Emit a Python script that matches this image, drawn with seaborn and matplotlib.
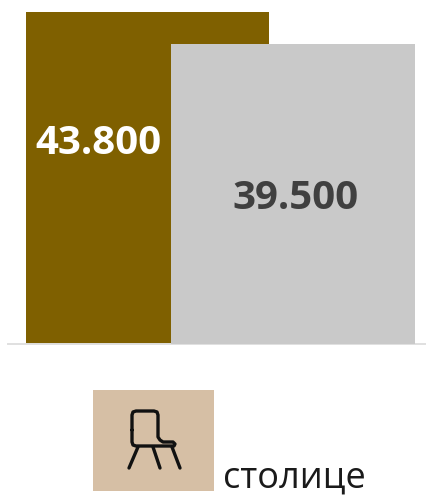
import matplotlib
matplotlib.use("Agg")
import matplotlib.pyplot as plt
from matplotlib.patches import Rectangle
import seaborn as sns
import pandas as pd

categories = ["2011", "2021"]
values = [43800, 39500]
value_labels = ["43.800", "39.500"]
bar_colors = ["#7F6000", "#C9C9C9"]
label_colors = ["white", "#404040"]
caption = "столице"

sns.set_theme(style="white")
plt.rcParams['font.family'] = ['Open Sans', 'DejaVu Sans']

W, H = 427, 495
fig = plt.figure(figsize=(W / 100, H / 100), dpi=100)

ax = fig.add_axes([8 / W, 1 - 343.5 / H, 419 / W, 332 / H])
df = pd.DataFrame({"cat": categories, "val": values})
for i, row in df.iterrows():
    sns.barplot(x=[i], y=[row["val"]], color=bar_colors[i], width=1.0,
                saturation=1, ax=ax, native_scale=True, zorder=2 + i)

# 243 px bar width, 145.7 px between the bar centres
ax.set_xlim(-(147.3 - 8) / 145.7, (427 - 147.3) / 145.7)
ax.set_ylim(0, 43800)
for p in ax.patches:
    c = p.get_x() + p.get_width() / 2
    p.set_x(c - 243.3 / 145.7 / 2)
    p.set_width(243.3 / 145.7)
    p.set_edgecolor('none')

# labels sit off centre in the reference, so place them relative to each bar
label_offsets = [(-49, 34), (3, -5)]
for i, row in df.iterrows():
    ax.annotate(value_labels[i], xy=(i, row["val"] / 2), xytext=label_offsets[i],
                textcoords='offset pixels', ha='center', va='center',
                color=label_colors[i], fontsize=29, fontweight='bold', zorder=5)

ax.set_xticks([])
ax.set_yticks([])
ax.set_xlabel("")
ax.set_ylabel("")
for s in ['top', 'left', 'right']:
    ax.spines[s].set_visible(False)
ax.spines['bottom'].set_color('#E0E0E0')
ax.spines['bottom'].set_linewidth(1.4)

# chair icon on beige square
ic = fig.add_axes([0, 0, 1, 1])
ic.set_xlim(0, W)
ic.set_ylim(H, 0)
ic.axis('off')
ic.patch.set_alpha(0)
ic.add_patch(Rectangle((93, 390), 121, 101, color='#D6BFA5', lw=0))
lw = 2.4
ic.plot([132, 132, 133, 136, 154, 157, 158, 158, 160, 163, 173, 175, 174, 172, 136, 133, 132, 132],
        [430, 415, 412, 411, 411, 412, 415, 437, 440, 442, 442, 444, 446, 446, 446, 445, 442, 430],
        color='#111111', lw=lw, solid_joinstyle='round')
ic.plot([138, 129], [447, 468], color='#111111', lw=lw, solid_capstyle='round')
ic.plot([153, 160], [447, 468], color='#111111', lw=lw, solid_capstyle='round')
ic.plot([172, 180], [447, 468], color='#111111', lw=lw, solid_capstyle='round')
ic.text(223, 487.5, caption, fontsize=26, color='#1A1A1A', ha='left', va='baseline')

fig.savefig("out.png", dpi=100)
plt.close(fig)
